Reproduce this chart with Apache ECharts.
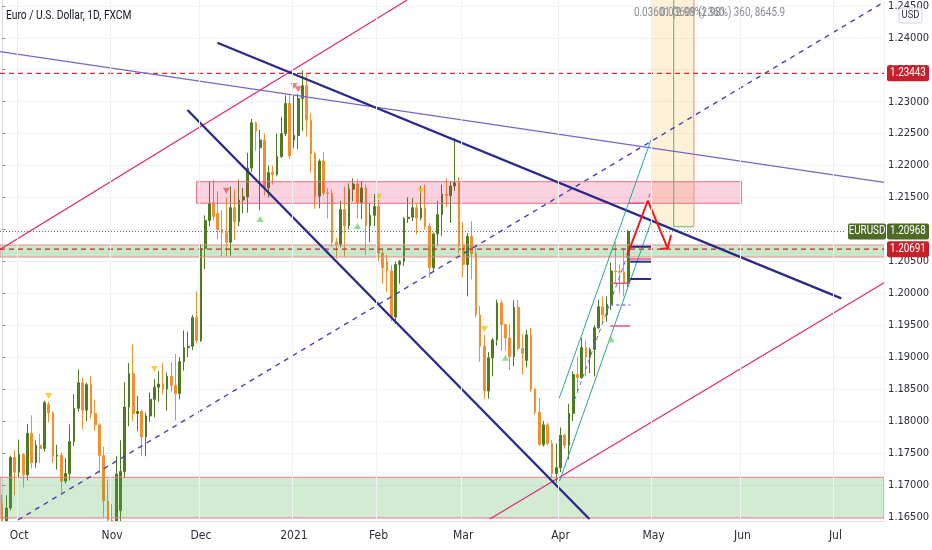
<!DOCTYPE html>
<html><head><meta charset="utf-8">
<script src="https://cdn.jsdelivr.net/npm/echarts@6/dist/echarts.min.js"></script>
<style>html,body{margin:0;padding:0;background:#fff}#c{width:932px;height:550px}</style>
</head><body><div id="c"></div>
<script>
// ---------- data ----------
const firstDay = [2020, 8, 25];   // Sep 25 2020 (UTC y, m0, d)
const lastDay = [2021, 6, 16];    // Jul 16 2021
const holidays = ['2020-12-25', '2021-01-01'];
const monthNames = ['2021','Feb','Mar','Apr','May','Jun','Jul','Aug','Sep','Oct','Nov','Dec'];
const priceTicks = [1.165,1.17,1.175,1.18,1.185,1.19,1.195,1.2,1.205,1.21,1.215,1.22,1.225,1.23,1.235,1.24,1.245];
// daily candles [open, close, low, high] from Sep 25 2020 to Apr 23 2021
const ohlc = [
[1.1671,1.1632,1.1612,1.1685],[1.1632,1.1664,1.1627,1.1684],[1.1664,1.1743,1.1660,1.1746],[1.1743,1.1720,1.1684,1.1754],
[1.1720,1.1748,1.1712,1.1771],[1.1748,1.1716,1.1696,1.1750],[1.1716,1.1781,1.1707,1.1795],[1.1781,1.1735,1.1726,1.1809],
[1.1735,1.1762,1.1727,1.1770],[1.1762,1.1757,1.1734,1.1780],[1.1757,1.1829,1.1752,1.1832],[1.1826,1.1813,1.1798,1.1830],
[1.1813,1.1745,1.1734,1.1815],[1.1745,1.1747,1.1724,1.1763],[1.1747,1.1706,1.1688,1.1751],[1.1706,1.1718,1.1702,1.1742],
[1.1718,1.1768,1.1707,1.1795],[1.1768,1.1820,1.1761,1.1842],[1.1820,1.1860,1.1815,1.1881],[1.1860,1.1817,1.1787,1.1868],
[1.1817,1.1857,1.1800,1.1860],[1.1857,1.1812,1.1804,1.1870],[1.1812,1.1794,1.1785,1.1834],[1.1794,1.1746,1.1718,1.1797],
[1.1746,1.1675,1.1650,1.1760],[1.1675,1.1645,1.1640,1.1708],[1.1645,1.1640,1.1622,1.1670],[1.1640,1.1717,1.1630,1.1745],
[1.1660,1.1721,1.1603,1.1770],[1.1721,1.1822,1.1711,1.1861],[1.1822,1.1874,1.1792,1.1891],[1.1874,1.1812,1.1800,1.1920],
[1.1812,1.1815,1.1784,1.1839],[1.1815,1.1775,1.1745,1.1818],[1.1775,1.1808,1.1745,1.1813],[1.1808,1.1834,1.1799,1.1845],
[1.1834,1.1853,1.1806,1.1866],[1.1853,1.1858,1.1830,1.1878],[1.1858,1.1850,1.1842,1.1891],[1.1850,1.1870,1.1816,1.1876],
[1.1870,1.1856,1.1846,1.1892],[1.1856,1.1843,1.1801,1.1905],[1.1843,1.1893,1.1834,1.1900],[1.1893,1.1915,1.1879,1.1942],
[1.1915,1.1917,1.1900,1.1940],[1.1917,1.1962,1.1911,1.1966],[1.1962,1.1926,1.1922,1.2003],[1.1926,1.2070,1.1924,1.2077],
[1.2070,1.2114,1.2038,1.2122],[1.2114,1.2141,1.2105,1.2175],[1.2141,1.2120,1.2113,1.2178],[1.2125,1.2100,1.2084,1.2160],
[1.2100,1.2095,1.2058,1.2130],[1.2095,1.2080,1.2058,1.2150],[1.2080,1.2134,1.2059,1.2167],[1.2134,1.2112,1.2083,1.2162],
[1.2112,1.2146,1.2105,1.2178],[1.2146,1.2151,1.2125,1.2165],[1.2151,1.2196,1.2126,1.2220],[1.2196,1.2267,1.2190,1.2273],
[1.2267,1.2254,1.2223,1.2269],[1.2228,1.2240,1.2130,1.2256],[1.2240,1.2165,1.2153,1.2250],[1.2165,1.2189,1.2150,1.2200],
[1.2189,1.2186,1.2170,1.2200],[1.2186,1.2214,1.2183,1.2250],[1.2214,1.2250,1.2212,1.2276],[1.2250,1.2297,1.2246,1.2310],
[1.2297,1.2215,1.2210,1.2310],[1.2240,1.2247,1.2227,1.2310],[1.2247,1.2305,1.2226,1.2312],[1.2305,1.2325,1.2254,1.2349],
[1.2325,1.2271,1.2245,1.2344],[1.2271,1.2218,1.2189,1.2282],[1.2218,1.2152,1.2132,1.2222],[1.2152,1.2207,1.2133,1.2210],
[1.2207,1.2157,1.2153,1.2221],[1.2157,1.2156,1.2117,1.2165],[1.2156,1.2080,1.2073,1.2162],[1.2080,1.2076,1.2054,1.2087],
[1.2076,1.2131,1.2072,1.2145],[1.2131,1.2106,1.2057,1.2167],[1.2106,1.2163,1.2100,1.2172],[1.2163,1.2171,1.2144,1.2180],
[1.2171,1.2142,1.2117,1.2179],[1.2142,1.2165,1.2116,1.2176],[1.2165,1.2106,1.2060,1.2170],[1.2106,1.2122,1.2080,1.2140],
[1.2122,1.2136,1.2105,1.2155],[1.2136,1.2063,1.2050,1.2146],[1.2063,1.2040,1.2015,1.2070],[1.2050,1.2035,1.2002,1.2060],
[1.2035,1.1963,1.1956,1.2044],[1.1963,1.2045,1.1952,1.2050],[1.2045,1.2050,1.2015,1.2052],[1.2050,1.2117,1.2043,1.2119],
[1.2117,1.2119,1.2110,1.2150],[1.2119,1.2134,1.2113,1.2149],[1.2134,1.2118,1.2092,1.2140],[1.2118,1.2133,1.2114,1.2168],
[1.2133,1.2105,1.2100,1.2170],[1.2105,1.2040,1.2024,1.2110],[1.2040,1.2093,1.2035,1.2095],[1.2093,1.2123,1.2075,1.2145],
[1.2123,1.2155,1.2090,1.2170],[1.2155,1.2153,1.2135,1.2180],[1.2153,1.2168,1.2110,1.2175],[1.2168,1.2173,1.2160,1.2243],
[1.2173,1.2075,1.2062,1.2182],[1.2075,1.2045,1.2025,1.2111],[1.2045,1.2089,1.1995,1.2094],[1.2089,1.2062,1.2022,1.2113],
[1.2062,1.1966,1.1962,1.2072],[1.1966,1.1917,1.1893,1.1980],[1.1917,1.1847,1.1835,1.1935],[1.1847,1.1899,1.1835,1.1908],
[1.1899,1.1927,1.1870,1.1930],[1.1927,1.1985,1.1918,1.1990],[1.1985,1.1951,1.1910,1.1990],[1.1951,1.1930,1.1910,1.1952],
[1.1930,1.1901,1.1880,1.1952],[1.1901,1.1978,1.1886,1.1989],[1.1978,1.1914,1.1910,1.1990],[1.1914,1.1906,1.1873,1.1936],
[1.1895,1.1935,1.1884,1.1943],[1.1935,1.1850,1.1845,1.1946],[1.1850,1.1814,1.1810,1.1852],[1.1814,1.1763,1.1762,1.1836],
[1.1763,1.1794,1.1760,1.1800],[1.1794,1.1765,1.1762,1.1797],[1.1765,1.1718,1.1712,1.1770],[1.1718,1.1727,1.1703,1.1765],
[1.1727,1.1778,1.1720,1.1790],[1.1778,1.1762,1.1757,1.1780],[1.1762,1.1812,1.1740,1.1827],[1.1812,1.1873,1.1800,1.1878],
[1.1873,1.1868,1.1844,1.1900],[1.1868,1.1915,1.1866,1.1930],[1.1915,1.1900,1.1870,1.1926],[1.1900,1.1912,1.1875,1.1915],
[1.1912,1.1946,1.1870,1.1950],[1.1946,1.1979,1.1944,1.1990],[1.1979,1.1966,1.1955,1.1995],[1.1966,1.1983,1.1955,1.1995],
[1.1983,1.2035,1.1974,1.2048],[1.2035,1.2034,1.2015,1.2080],[1.2034,1.2033,1.2000,1.2045],[1.2033,1.2016,1.1995,1.2071],
[1.2016,1.2097,1.2010,1.2099]
];
const lastPrice = 1.20968;
const hLineTop = 1.23443;
const hLineSupport = 1.20691;
// drawings: [barIndex, price] pairs
const thinPurpleLine = [[-0.5,1.23782],[208.5,1.21737]];
const navyLine1 = [[50.88,1.23922],[198.38,1.19922]];
const navyLine2 = [[43.82,1.22869],[138.83,1.16467]];
const pinkLineUpper = [[-0.5,1.20686],[95.76,1.24591]];
const pinkLineLower = [[115.3,1.16467],[208.5,1.20166]];
const dashedLongLine = [[3.74,1.16452],[208.5,1.24559]];
const tealLineA = [[131.7,1.18357],[153.66,1.22451]];
const tealLineB = [[131.77,1.17062],[153.66,1.21163]];
const channelMid = [[135.3,1.18330],[153.66,1.21648]];
const redArrow = [[147.77,1.20599],[152.65,1.21449],[157.35,1.20704]];
const redArrowWingA = [[158.13,1.20913],[157.35,1.20704],[155.61,1.20693]];
const shortNavy = [[[148.17,1.20729],[153.5,1.20729]],[[148.48,1.20495],[153.42,1.20495]],[[148.48,1.20224],[153.42,1.20224]]];
const shortPink = [[[148.48,1.20537],[153.42,1.20537]],[[143.77,1.20157],[148.48,1.20157]],[[143.77,1.19488],[148.48,1.19488]],[[148.17,1.21409],[151.7,1.21409]]];
const shortDashed = [[[143.77,1.19817],[148.48,1.19817]]];
const greenZoneMid = [1.20568, 1.20756];
const greenZoneLow = [1.16483, 1.17120];
const pinkZone = {x: [45.94, 174.84], y: [1.21409, 1.21747]};
const targetZone = {x: [153.66, 163.54], y: [1.21042, 1.24591], split: 158.77};
const markersYellow = [[11,1.18393],[36,1.18815],[89,1.21512],[99,1.21601],[114,1.19441]];
const markersRed = [[53,1.21606],[69,1.23245],[70,1.23193]];
const markersGreen = [[61,1.21163],[84,1.21053],[119,1.18992],[144,1.1928]];

// ---------- categories (trading days) ----------
const categories = [];
for (let d = new Date(Date.UTC(...firstDay)); d.getTime() <= Date.UTC(...lastDay); d.setUTCDate(d.getUTCDate() + 1)) {
  const wd = d.getUTCDay();
  if (wd === 0 || wd === 6) continue;
  const s = d.toISOString().slice(0, 10);
  if (holidays.includes(s)) continue;
  categories.push(s);
}
const monthStart = categories.map((c, i) => i > 0 && c.slice(0, 7) !== categories[i - 1].slice(0, 7));
const N = categories.length;
const FONT = '"DejaVu Sans Condensed", Roboto, sans-serif';
const TFONT = 'Roboto, sans-serif';

const chart = echarts.init(document.getElementById('c'), null, {renderer: 'canvas'});

function seg(data, color, width, type, z) {
  return {type: 'line', xAxisIndex: 1, yAxisIndex: 0, data, symbol: 'none', showSymbol: false,
    lineStyle: {color, width, type: type || 'solid'}, silent: true, z: z || 5, clip: true, animation: false};
}
function zone(x1, x2, y1, y2, fill, border) {
  return [{coord: [x1, y2], itemStyle: {color: fill, borderColor: border, borderWidth: 1}}, {coord: [x2, y1]}];
}
const series = [];
series.push({
  type: 'candlestick', xAxisIndex: 0, yAxisIndex: 0, data: ohlc, barWidth: 2.2, z: 2, clip: true,
  itemStyle: {color: '#4d7c20', color0: '#f68d2e', borderColor: '#4d7c20', borderColor0: '#f68d2e', borderWidth: 1},
  animation: false
});
// zones
series.push({
  type: 'line', xAxisIndex: 1, yAxisIndex: 0, data: [], silent: true, z: 3,
  markArea: {silent: true, z: 3, data: [
    zone(targetZone.x[0], targetZone.x[1], targetZone.y[0], targetZone.y[1], 'rgba(255,170,40,0.18)', 'rgba(0,0,0,0)'),
    zone(-0.5, 208.5, greenZoneMid[0], greenZoneMid[1], 'rgba(76,175,80,0.3)', '#f08a8a'),
    zone(-0.5, 208.5, greenZoneLow[0], greenZoneLow[1], 'rgba(76,175,80,0.25)', '#f07a84'),
    zone(pinkZone.x[0], pinkZone.x[1], pinkZone.y[0], pinkZone.y[1], 'rgba(233,30,99,0.2)', '#ef6f80')
  ]}
});
// target zone lines
series.push(seg([[targetZone.split, targetZone.y[1]], [targetZone.split, targetZone.y[0]], [targetZone.x[1], targetZone.y[0]]], '#5cb85c', 1));
series.push(seg([[targetZone.x[1], targetZone.y[1]], [targetZone.x[1], targetZone.y[0]]], '#eea08e', 1.2));
// horizontal lines
series.push(seg([[-0.5, hLineTop], [208.5, hLineTop]], '#d32f2f', 1.3, [5, 4]));
series.push(seg([[-0.5, hLineSupport], [208.5, hLineSupport]], '#c62828', 1.3, [5, 4]));
series.push(seg([[-0.5, lastPrice], [199.08, lastPrice]], '#666', 1, [1, 2]));
// trend lines
series.push(seg(thinPurpleLine, '#7566c9', 1.2));
series.push(seg(pinkLineUpper, '#e2266e', 1.2));
series.push(seg(pinkLineLower, '#e2266e', 1.2));
series.push(seg(dashedLongLine, '#4a3fb5', 1.4, [5, 5]));
series.push(seg(navyLine1, '#2b2a8a', 2.4));
series.push(seg(navyLine2, '#2b2a8a', 2.4));
series.push(seg(tealLineA, '#26a69a', 1));
series.push(seg(tealLineB, '#26a69a', 1));
series.push(seg(channelMid, '#6a5fd0', 1, [4, 4]));
shortNavy.forEach(s => series.push(seg(s, '#2b2a8a', 2)));
shortPink.forEach(s => series.push(seg(s, '#ec4f86', 1.5)));
shortDashed.forEach(s => series.push(seg(s, '#6a5fd0', 1.2, [3, 3])));
series.push(seg(redArrow, '#f01818', 2, 'solid', 8));
series.push(seg(redArrowWingA, '#f01818', 2, 'solid', 8));
// markers
function markers(data, color, rot) {
  return {type: 'scatter', xAxisIndex: 0, yAxisIndex: 0, data, symbol: 'triangle', symbolSize: [7, 6],
    symbolRotate: rot, itemStyle: {color}, silent: true, z: 6, animation: false};
}
series.push(markers(markersYellow, '#f5c211', 180));
series.push(markers(markersRed, '#ef5a5a', 180));
series.push(markers(markersGreen, '#78d36f', 0));

chart.setOption({
  animation: false,
  backgroundColor: '#ffffff',
  grid: {left: 0, right: 44, top: 0, bottom: 29, containLabel: false},
  xAxis: [{
    type: 'category', data: categories, boundaryGap: true, z: 20,
    axisLine: {show: true, lineStyle: {color: '#d9dce3'}},
    axisTick: {show: false},
    axisLabel: {
      interval: (i) => monthStart[i], color: '#2a2e39', fontSize: 12, margin: 9, fontFamily: FONT,
      formatter: (v) => { const m = +v.slice(5, 7); return m === 1 ? v.slice(0, 4) : monthNames[m - 1]; }
    },
    splitLine: {show: true, interval: (i) => monthStart[i], lineStyle: {color: '#eff1f5'}}
  }, {
    type: 'value', min: -0.5, max: N - 0.5, show: false
  }],
  yAxis: [{
    type: 'value', position: 'right', min: 1.16436, max: 1.24591,
    axisLine: {show: true, lineStyle: {color: '#d9dce3'}},
    axisTick: {show: true, length: 3, customValues: priceTicks, lineStyle: {color: '#8a8d95'}},
    axisLabel: {customValues: priceTicks, formatter: (v) => v.toFixed(5), color: '#2a2e39', fontSize: 11, margin: 4, fontFamily: FONT},
    splitLine: {show: true, lineStyle: {color: '#eff1f5'}}
  }],
  series
});

// price tags on the scale and text overlays
const yp = (p) => chart.convertToPixel({yAxisIndex: 0}, p);
const plotBottom = yp(1.16436);
function txt(x, y, text, fill, size, align, sx) {
  return {type: 'text', x, y, z: 101, scaleX: sx, scaleY: 1,
    style: {text, fill, font: size + 'px ' + TFONT, align, verticalAlign: 'middle'}};
}
function tag(p, text, bg, x, w) {
  const y = yp(p);
  return [
    {type: 'rect', shape: {x, y: y - 8, width: w, height: 16, r: 2}, style: {fill: bg}, z: 100},
    txt(x + w / 2, y, text, '#ffffff', 12, 'center', 0.82)
  ];
}
const g = [];
// mask below the price pane (time scale strip)
g.push({type: 'rect', shape: {x: 0, y: plotBottom + 0.5, width: 888, height: 550 - plotBottom}, style: {fill: '#ffffff'}, z: 10, silent: true});
g.push(...tag(hLineTop, hLineTop.toFixed(5), '#c8202a', 887, 42));
g.push(...tag(lastPrice, 'EURUSD', '#4e6b26', 848, 38));
g.push(...tag(lastPrice, lastPrice.toFixed(5), '#4e6b26', 887, 42));
g.push(...tag(hLineSupport, hLineSupport.toFixed(5), '#c8202a', 887, 42));
g.push({type: 'rect', shape: {x: 899, y: 8, width: 23, height: 15, r: 2}, style: {fill: '#fff', stroke: '#d1d4dc', lineWidth: 1}, z: 100});
g.push(txt(910.5, 15.5, 'USD', '#2a2e39', 11, 'center', 0.85));
g.push(txt(6, 16, 'Euro / U.S. Dollar, 1D, FXCM', '#131722', 13, 'left', 0.79));
g.push(txt(634, 13, '0.03601 (2.98%) 360', '#8a8d95', 12, 'left', 0.82));
g.push(txt(660, 13, '0.03609 (2.98%) 360, 8645.9', '#8a8d95', 12, 'left', 0.82));
chart.setOption({graphic: g});
</script>
</body></html>
